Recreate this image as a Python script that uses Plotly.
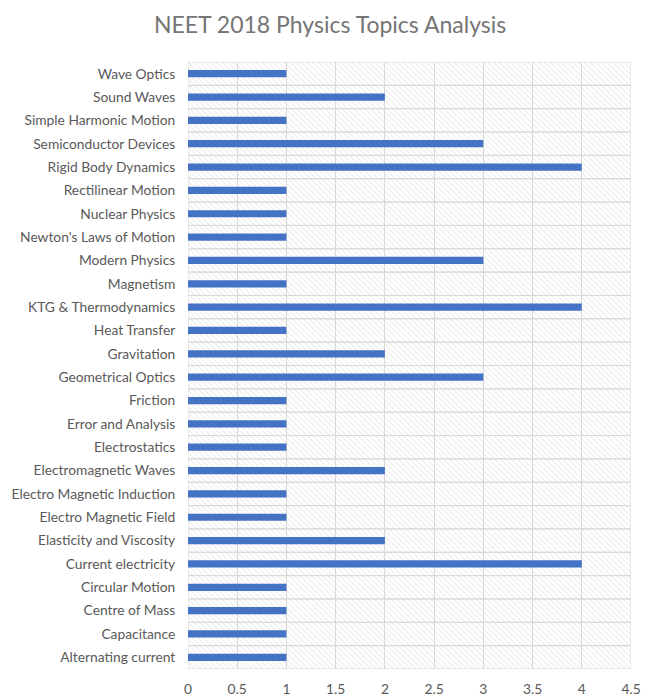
import plotly.graph_objects as go

topics = [
    "Alternating current", "Capacitance", "Centre of Mass", "Circular Motion",
    "Current electricity", "Elasticity and Viscosity", "Electro Magnetic Field",
    "Electro Magnetic Induction", "Electromagnetic Waves", "Electrostatics",
    "Error and Analysis", "Friction", "Geometrical Optics", "Gravitation",
    "Heat Transfer", "KTG & Thermodynamics", "Magnetism", "Modern Physics",
    "Newton's Laws of Motion", "Nuclear Physics", "Rectilinear Motion",
    "Rigid Body Dynamics", "Semiconductor Devices", "Simple Harmonic Motion",
    "Sound Waves", "Wave Optics",
]
counts = [1, 1, 1, 1, 4, 2, 1, 1, 2, 1, 1, 1, 3, 2, 1, 4, 1, 3, 1, 1, 1, 4, 3, 1, 2, 1]
x_max = 4.5
x_ticks = [0, 0.5, 1, 1.5, 2, 2.5, 3, 3.5, 4, 4.5]
x_tick_labels = ["0", "0.5", "1", "1.5", "2", "2.5", "3", "3.5", "4", "4.5"]

FONT = "Lato, Open Sans, sans-serif"
GRID = "#d9d9d9"

fig = go.Figure()
# hatched background bands (one per category) with outlines as horizontal gridlines
fig.add_trace(go.Bar(
    y=topics, x=[x_max] * len(topics), orientation="h", width=1,
    marker=dict(color="rgba(0,0,0,0)", line=dict(color=GRID, width=1),
                pattern=dict(shape="\\", fgcolor="#d4d4d4", bgcolor="rgba(0,0,0,0)",
                             size=4, solidity=0.25, fillmode="overlay")),
    hoverinfo="skip", showlegend=False,
))
fig.add_trace(go.Bar(
    y=topics, x=counts, orientation="h", width=0.31,
    marker=dict(color="#4472C4", line=dict(width=0)),
    showlegend=False,
))

fig.update_layout(
    width=652, height=691,
    barmode="overlay",
    paper_bgcolor="white", plot_bgcolor="white",
    margin=dict(l=180, r=29, t=54, b=30, pad=0, autoexpand=False),
    title=dict(text="NEET 2018 Physics Topics Analysis", x=0.494, xanchor="center",
               xref="container", y=0.975, yanchor="middle",
               font=dict(family=FONT, size=23, color="#757575")),
    font=dict(family=FONT, size=13.8, color="#595959"),
    xaxis=dict(range=[0, x_max], tickvals=x_ticks, ticktext=x_tick_labels,
               automargin=False,
               showgrid=True, gridcolor=GRID, gridwidth=1, zeroline=False,
               showline=False, ticks="outside", ticklen=7, tickcolor="rgba(0,0,0,0)",
               tickfont=dict(family=FONT, size=13.8, color="#595959")),
    yaxis=dict(categoryorder="array", categoryarray=topics, showgrid=False,
               automargin=False,
               zeroline=False, showline=False, ticks="outside", ticklen=9,
               tickcolor="rgba(0,0,0,0)", range=[-0.5, len(topics) - 0.5],
               tickfont=dict(family=FONT, size=13.8, color="#595959")),
)

fig.write_html("out.html")
